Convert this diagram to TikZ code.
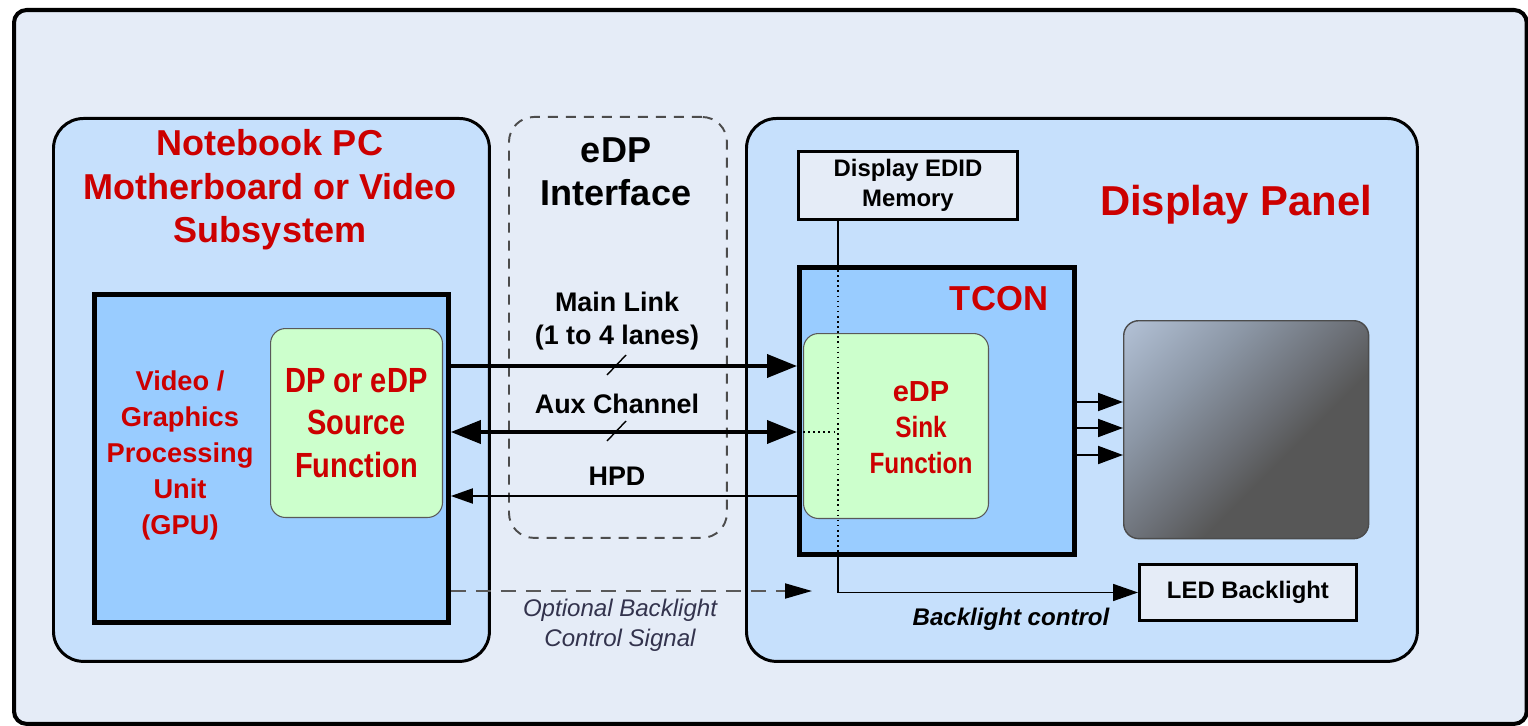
\documentclass[tikz,border=0pt]{standalone}
\usepackage{fontspec}
\setmainfont{Liberation Sans}
\newfontfamily\narrowsans[FakeStretch=0.83]{Liberation Sans}
\usepackage{tikz}
\usetikzlibrary{arrows.meta,calc,positioning}

\definecolor{bgfill}{HTML}{E5ECF7}
\definecolor{panelfill}{HTML}{C6E0FC}
\definecolor{chipfill}{HTML}{99CCFF}
\definecolor{funcfill}{HTML}{CCFFCC}
\definecolor{lblred}{HTML}{CC0000}
\definecolor{notecol}{HTML}{33334D}
\definecolor{scrlight}{HTML}{B4C3D8}
\definecolor{scrblue}{HTML}{8C97A6}
\definecolor{scrmid}{HTML}{6C7077}
\definecolor{scrdark}{HTML}{575757}
\pgfdeclareverticalshading{screenshade}{100bp}{color(0bp)=(scrdark); color(40bp)=(scrdark);
  color(50bp)=(scrmid); color(66bp)=(scrblue); color(86bp)=(scrlight); color(100bp)=(scrlight)}

\begin{document}
\begin{tikzpicture}[x=0.02cm,y=-0.02cm,
  corner/.style={rectangle,anchor=north west,inner sep=0pt},
  panel/.style={corner,draw,line width=1.7pt,rounded corners=0.6cm,fill=panelfill},
  chip/.style={corner,draw,line width=2.8pt,fill=chipfill},
  func/.style={corner,draw=gray!70!black,line width=0.6pt,rounded corners=0.3cm,fill=funcfill},
  membox/.style={corner,draw,line width=1.7pt,fill=bgfill,align=center,
                 font=\fontsize{13.6}{17}\selectfont\bfseries},
  title/.style={align=center,text=lblred,font=\fontsize{20.5}{24.8}\selectfont\bfseries},
  sig/.style={align=center,font=\fontsize{15.3}{18.8}\selectfont\bfseries},
  note/.style={align=center,text=notecol,font=\fontsize{13.7}{17}\selectfont\itshape},
  bus/.style={line width=2.2pt,-{Triangle[length=0.6cm,width=0.46cm]}},
  bibus/.style={line width=2.2pt,{Triangle[length=0.6cm,width=0.46cm]}-{Triangle[length=0.6cm,width=0.46cm]}},
  hpd/.style={line width=1.1pt,-{Triangle[length=0.44cm,width=0.3cm]}},
  vid/.style={line width=1.1pt,-{Triangle[length=0.5cm,width=0.36cm]}},
  ctl/.style={line width=0.9pt,-{Triangle[length=0.5cm,width=0.34cm]}},
  opt/.style={line width=1.1pt,gray!70!black,dash pattern=on 0.3cm off 0.2cm,
              -{Triangle[length=0.54cm,width=0.3cm,color=black]}}]

\useasboundingbox (0,0) rectangle (1528,726);

\node[corner,draw,line width=2.3pt,rounded corners=0.25cm,fill=bgfill,
      minimum width=30.26cm,minimum height=14.28cm] (frame) at (12,8) {};

\node[panel,minimum width=8.72cm,minimum height=10.86cm] (nb) at (52,117) {};
\node[panel,minimum width=13.42cm,minimum height=10.86cm] (disp) at (745,117) {};
\node[corner,draw=gray!60!black,line width=1.1pt,dash pattern=on 0.2cm off 0.16cm,
      rounded corners=0.5cm,minimum width=4.36cm,minimum height=8.42cm] (edpif) at (508,116) {};

\node[chip,minimum width=7.08cm,minimum height=6.56cm] (gpu) at (92,292) {};
\node[func,minimum width=3.44cm,minimum height=3.78cm,align=center,text=lblred,
      font=\narrowsans\bfseries\fontsize{19.9}{24}\selectfont] (src) at (270,328)
  {DP or eDP\\Source\\Function};

\node[chip,minimum width=5.5cm,minimum height=5.74cm] (tcon) at (797,265) {};
\node[func,minimum width=3.7cm,minimum height=3.7cm] (sink) at (803,333) {};
\node[membox,minimum width=4.38cm,minimum height=1.36cm] (edid) at (797,150)
  {Display EDID\\Memory};
\node[corner,draw=gray!60!black,line width=0.8pt,rounded corners=0.3cm,
      shading=screenshade,shading angle=45,
      minimum width=4.9cm,minimum height=4.36cm] (screen) at (1123,320) {};
\node[membox,minimum width=4.34cm,minimum height=1.12cm] (led) at (1138,563) {LED Backlight};

\node[title] (nbtitle) at (270,190) {Notebook PC\\Motherboard or Video\\Subsystem};
\node[title,text=black] (iftitle) at (616,172) {eDP\\Interface};
\node[title,font=\fontsize{23.8}{28}\selectfont\bfseries] (disptitle) at (1236,205) {Display Panel};
\node[title,font=\fontsize{19.7}{24}\selectfont\bfseries] (tconlbl) at (999,299) {TCON};
\node[align=center,text=lblred,font=\fontsize{15.5}{20.5}\selectfont\bfseries] (gpulbl)
  at (180,455) {Video /\\Graphics\\Processing\\Unit\\(GPU)};
\node[align=center,text=lblred,font=\narrowsans\bfseries\fontsize{16.7}{20.5}\selectfont] (sinklbl)
  at (921,428) {{\normalfont\bfseries\fontsize{16.5}{20.5}\selectfont eDP}\\Sink\\Function};

\coordinate (ml) at (0,366);
\coordinate (aux) at (0,432);
\coordinate (hp) at (0,496);
\coordinate (bl) at (838,591);
\coordinate (optend) at (812,591);

\draw[bus] (gpu.east |- ml) -- (tcon.west |- ml);
\draw[bibus] (gpu.east |- aux) -- (tcon.west |- aux);
\draw[hpd] (tcon.west |- hp) -- (gpu.east |- hp);
\foreach \yy in {366,432}
  \draw[line width=0.8pt] (607,\yy+9) -- (626,\yy-11);

\node[sig] (mainlbl) at (617,321) {Main Link\\(1 to 4 lanes)};
\node[sig] (auxlbl) at (617,404) {Aux Channel};
\node[sig] (hpdlbl) at (617,476) {HPD};

\draw[line width=0.9pt] (edid.south -| bl) -- (tcon.north -| bl);
\draw[line width=0.9pt,dotted] (tcon.north -| bl) -- (tcon.south -| bl);
\draw[line width=0.9pt,dotted] (sink.west |- aux) -- (bl |- aux);
\draw[ctl] (tcon.south -| bl) |- (led.west);
\node[font=\fontsize{13.7}{16}\selectfont\bfseries\itshape] (ctllbl) at (1011,619) {Backlight control};

\foreach \yy in {402,428,455}
  \draw[vid] (tcon.east |- 0,\yy) -- (screen.west |- 0,\yy);

\draw[opt] (gpu.east |- bl) -- (optend);
\node[note] (optlbl) at (620,625) {Optional Backlight\\Control Signal};
\end{tikzpicture}
\end{document}
